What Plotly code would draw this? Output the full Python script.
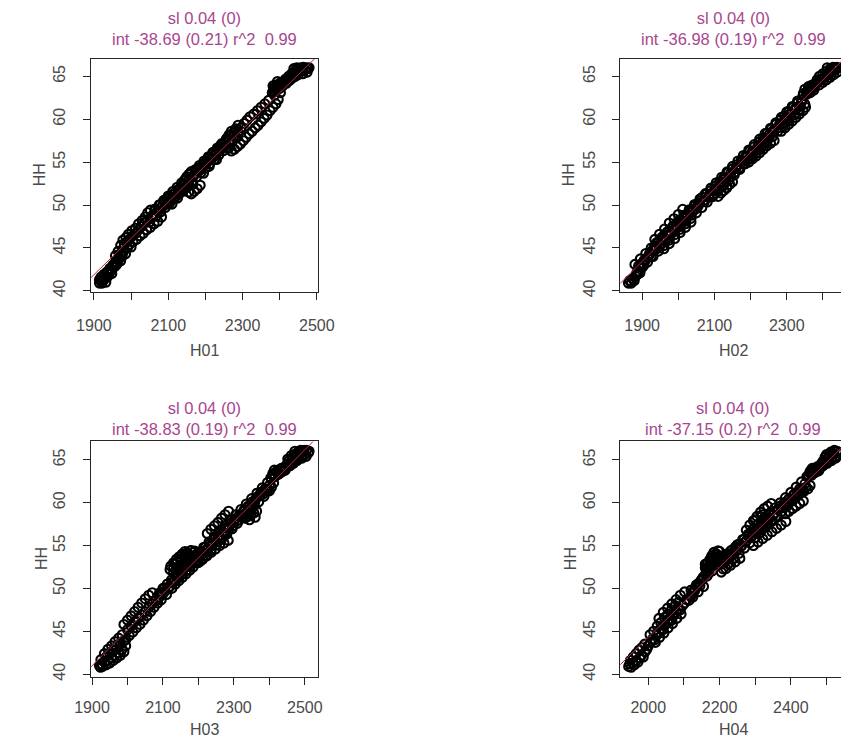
import plotly.graph_objects as go

W, H = 858, 752

# ---------------- data ----------------
panel_names = ["H01", "H02", "H03", "H04"]
titles = ["sl 0.04 (0)<br>int -38.69 (0.21) r^2  0.99",
          "sl 0.04 (0)<br>int -36.98 (0.19) r^2  0.99",
          "sl 0.04 (0)<br>int -38.83 (0.19) r^2  0.99",
          "sl 0.04 (0)<br>int -37.15 (0.2) r^2  0.99"]
fit_slope = [0.0424, 0.04232, 0.0420, 0.04073]
fit_intercept = [-38.69, -36.98, -38.83, -37.15]

pts_h01 = [
    (1915,40.9),(1918,41.2),(1922,40.9),(1927,41.3),(1932,41.0),(1936,41.6),(1940,41.9),(1944,42.3),(1948,42.0),
    (1915,41.3),(1919,41.6),(1923,41.4),(1927,41.9),(1931,41.7),(1935,42.2),(1939,42.0),(1943,42.6),(1947,42.4),
    (1951,43.0),(1955,42.8),(1959,43.4),(1963,43.2),(1967,43.7),(1971,44.3),(1975,44.0),
    (1952,42.8),(1956,43.2),(1960,43.0),(1964,43.6),(1968,43.9),(1972,43.5),(1976,44.2),(1980,44.6),(1985,44.3),
    (1990,45.0),(1995,45.4),(2000,45.1),
    (1958,44.1),(1965,44.6),(1972,45.3),(1978,45.9),(1986,46.2),(1993,46.6),(2002,47.0),(2012,47.3),(2020,47.8),
    (2030,48.2),(2038,48.6),(2045,49.1),(2052,49.4),
    (1982,45.3),(1988,45.7),(1996,46.0),(2004,46.4),(2012,46.7),(2020,47.1),(2028,47.5),(2036,47.9),(2044,48.3),
    (2050,48.0),(2056,48.6),
    (2005,45.7),(2015,46.0),(2024,46.4),(2033,46.7),(2042,47.1),(2052,47.4),(2062,47.8),(2072,48.1),(2082,48.6),
    (2060,48.9),(2066,49.5),(2072,49.2),(2078,50.0),(2084,49.8),(2090,50.4),(2096,50.1),(2102,50.9),(2108,50.6),
    (2114,51.3),(2120,51.0),(2126,51.8),(2132,51.5),(2138,52.3),(2144,52.9),(2150,53.3),(2156,53.6),(2162,53.9),
    (2168,53.4),(2174,54.0),(2180,54.3),(2186,54.1),(2192,54.6),(2198,54.9),(2204,55.1),(2210,55.5),(2216,55.3),
    (2222,56.0),(2228,55.8),(2234,56.5),(2240,56.9),(2246,56.6),(2252,57.3),(2258,57.8),(2264,58.2),(2270,58.6),
    (2276,58.4),(2282,58.9),(2288,59.3),
    (2064,49.52),(2068,48.69),(2072,49.36),(2076,50.03),(2080,49.20),(2084,49.87),(2088,50.54),(2092,49.71),
    (2096,50.38),(2100,51.05),(2104,50.22),(2108,50.89),(2112,51.56),(2116,50.73),(2120,51.40),(2124,52.07),
    (2128,51.24),(2132,51.91),(2136,52.58),(2140,51.75),(2144,52.42),(2148,53.09),(2152,52.26),(2156,52.92),
    (2160,53.59),(2164,52.76),(2168,53.43),(2172,54.10),(2176,53.27),(2180,53.94),(2184,54.61),(2188,53.78),
    (2192,54.45),(2196,55.12),(2200,54.29),(2204,54.96),(2208,55.63),(2212,54.80),(2216,55.47),(2220,56.14),
    (2224,55.31),(2228,55.98),(2232,56.65),(2236,55.82),(2240,56.49),(2244,57.16),(2248,56.33),(2252,57.00),
    (2256,57.66),(2260,56.83),(2264,57.50),(2268,58.17),(2272,57.34),(2276,58.01),(2280,58.68),(2284,57.85),
    (2288,58.52),
    (2110,50.1),(2125,50.8),(2140,51.6),(2155,52.4),(2195,53.7),(2210,54.5),(2230,55.3),
    (2148,52.0),(2155,51.5),(2162,51.3),(2170,51.6),(2178,51.9),(2186,52.3),(2166,52.4),
    (2296,59.0),(2304,59.5),(2312,59.9),(2320,60.3),(2330,60.6),(2340,61.0),(2350,61.4),(2360,61.8),(2370,62.2),
    (2262,56.6),(2270,56.3),(2278,56.5),(2286,56.8),(2294,57.1),(2302,57.5),(2310,57.9),
    (2318,58.3),(2326,58.6),(2334,59.0),(2342,59.3),(2350,59.7),(2358,60.1),(2366,60.5),(2374,61.0),(2382,61.4),
    (2390,61.8),(2396,62.3),
    (2380,63.1),(2384,63.7),(2388,63.3),(2392,64.0),(2396,63.6),(2400,64.2),(2405,63.8),(2410,64.3),(2386,62.8),
    (2384,63.2),(2388,63.8),(2392,63.4),(2396,64.0),(2400,63.6),(2404,64.3),(2408,63.9),(2382,63.9),(2394,64.4),
    (2402,63.1),
    (2412,64.3),(2416,64.7),(2420,64.5),(2424,65.0),(2428,64.8),(2432,65.3),(2436,65.1),(2440,65.6),(2444,65.4),
    (2448,65.9),(2452,65.6),(2456,66.0),(2460,65.7),(2464,66.05),(2468,65.8),(2472,66.0),(2476,65.9),(2479,66.0),
    (2450,65.2),(2462,65.3),(2474,65.5),(2418,64.2),(2426,64.5),(2434,64.8),(2442,65.0),(2438,65.9),(2446,66.0),
]

pts_h02 = [
    (1862,40.9),(1866,41.2),(1870,40.9),(1874,41.4),(1878,41.2),(1882,41.7),(1886,41.9),(1890,42.3),(1894,42.1),
    (1895,42.8),(1900,43.2),(1905,43.0),(1910,43.6),(1915,43.9),(1920,44.3),(1925,44.0),(1930,44.8),(1935,45.2),
    (1940,44.9),(1945,45.6),(1950,45.3),(1955,45.9),(1960,46.2),(1965,45.8),(1970,46.5),(1975,46.9),(1980,46.6),
    (1985,47.3),(1990,47.0),(1995,47.6),(2000,47.9),(2005,47.5),(2010,48.2),(2015,48.5),(2020,48.1),(2025,48.9),
    (2030,49.2),(2035,48.8),(2040,49.5),(2045,49.9),(2050,49.6),(2055,50.2),(2060,50.5),
    (1935,46.0),(1948,46.6),(1962,47.2),(1975,47.9),(1988,48.4),(2000,48.9),(2012,49.5),
    (1960,44.9),(1975,45.5),(1990,46.1),(2005,46.8),(2020,47.4),(2035,48.0),
    (1880,43.08),(1885,42.09),(1890,42.90),(1895,43.72),(1900,42.73),(1905,43.54),(1910,44.35),(1915,43.36),
    (1920,44.17),(1925,44.99),(1930,44.00),(1935,44.81),(1940,45.62),(1945,44.63),(1950,45.44),(1955,46.26),
    (1960,45.27),(1965,46.08),(1970,46.89),(1975,45.90),(1980,46.71),(1985,47.53),(1990,46.54),(1995,47.35),
    (2000,48.16),(2005,47.17),(2010,47.98),(2015,48.79),(2020,47.81),(2025,48.62),(2030,49.43),(2035,48.44),
    (2040,49.25),(2045,50.06),(2050,49.08),(2055,49.89),(2060,50.70),(2065,49.71),(2070,50.52),(2075,51.33),
    (2080,50.35),(2085,51.16),(2090,51.97),(2095,50.98),(2100,51.79),(2105,52.60),(2110,51.62),(2115,52.43),
    (2120,53.24),(2125,52.25),(2130,53.06),(2135,53.87),(2140,52.88),(2145,53.70),(2150,54.51),(2155,53.52),
    (2160,54.33),(2165,55.14),(2170,54.15),(2175,54.97),(2180,55.78),(2185,54.79),(2190,55.60),(2195,56.41),
    (2200,55.42),(2205,56.24),(2210,57.05),(2215,56.06),(2220,56.87),(2225,57.68),(2230,56.69),(2235,57.51),
    (2240,58.32),(2245,57.33),(2250,58.14),(2255,58.95),(2260,57.96),(2265,58.78),(2270,59.59),(2275,58.60),
    (2280,59.41),(2285,60.22),(2290,59.23),(2295,60.04),(2300,60.86),(2305,59.87),(2310,60.68),(2315,61.49),
    (2320,60.50),(2325,61.31),(2330,62.13),(2335,61.14),(2340,61.95),(2345,62.76),(2350,61.77),
    (2066,50.9),(2072,50.4),(2078,51.3),(2084,50.9),(2090,51.7),(2096,51.3),(2102,52.2),(2108,51.8),(2114,52.7),
    (2120,52.3),(2126,53.2),(2132,52.8),(2138,53.8),(2144,53.3),(2150,54.2),(2156,53.8),(2162,54.7),(2168,54.3),
    (2174,55.2),(2180,54.8),(2186,55.7),(2192,55.3),(2198,56.3),(2204,55.9),(2210,56.8),(2216,56.4),(2222,57.3),
    (2228,56.9),(2234,57.8),(2240,57.4),(2246,58.4),(2252,57.9),(2258,58.9),(2264,58.5),(2270,59.4),(2276,59.0),
    (2282,59.9),(2288,59.5),(2294,60.4),(2300,60.0),(2306,60.9),(2312,60.6),(2318,61.4),(2324,61.1),(2330,61.9),
    (2336,61.5),(2342,62.3),
    (2110,51.0),(2118,51.4),(2126,51.7),(2134,52.0),(2142,52.4),(2150,52.7),
    (2195,55.0),(2205,55.4),(2215,55.7),(2225,56.1),(2235,56.5),(2245,56.9),(2255,57.2),(2265,57.5),
    (2285,58.6),(2295,59.0),(2305,59.4),(2315,59.8),(2325,60.2),(2335,60.6),(2345,61.0),(2352,61.4),
    (2346,63.0),(2350,63.5),(2355,63.2),(2360,63.8),(2365,63.4),(2370,64.0),(2375,63.7),(2380,64.2),
    (2355,62.9),(2360,63.4),(2365,63.1),(2370,63.7),(2375,63.4),(2380,64.0),(2385,64.3),(2390,64.0),(2395,64.6),
    (2400,64.3),(2405,64.9),(2410,64.6),(2415,65.2),(2420,64.9),(2425,65.5),(2430,65.2),(2435,65.8),(2440,65.5),
    (2443,66.0),(2432,66.0),(2420,65.6),
    (2384,64.6),(2390,65.0),(2395,64.7),(2400,65.3),(2405,65.0),(2410,65.6),(2415,65.3),(2420,65.9),(2425,65.6),
    (2412,66.0),(2428,66.05),(2438,66.05),
]

pts_h03 = [
    (1921,41.0),(1924,40.8),(1927,41.2),(1930,40.9),(1935,41.4),(1940,41.1),(1945,41.6),(1950,41.3),(1955,41.9),
    (1960,41.6),(1965,42.2),(1970,41.9),(1975,42.5),(1980,42.2),(1985,42.9),(1990,42.6),(1995,43.3),
    (1925,41.7),(1935,42.4),(1945,42.9),(1955,43.3),(1965,43.8),(1975,44.2),(1985,44.6),
    (1940,42.0),(1950,42.4),(1960,42.8),(1970,43.2),(1980,43.6),(1990,43.9),
    (1990,45.8),(2000,46.3),(2010,46.8),(2020,47.3),(2030,47.8),(2040,48.3),(2050,48.8),(2060,49.2),(2070,49.5),
    (1995,44.0),(2005,44.5),(2015,44.9),(2025,45.4),(2035,45.8),(2045,46.3),(2055,46.8),(2065,47.3),(2075,47.8),
    (2085,48.3),
    (2000,45.2),(2010,45.6),(2020,46.1),(2030,46.5),(2040,46.9),(2050,47.3),(2060,47.8),(2070,48.2),(2080,48.6),
    (2090,49.0),
    (2095,49.4),(2100,50.0),(2106,49.7),(2112,50.5),(2118,50.2),(2124,51.0),(2130,50.7),(2136,51.5),(2142,51.2),
    (2148,52.0),(2154,51.7),(2160,52.4),(2166,52.1),(2172,52.9),(2178,52.6),(2184,53.3),(2190,53.0),(2196,53.8),
    (2122,52.6),(2130,53.0),(2138,53.4),(2146,53.7),(2154,54.0),(2162,54.3),(2170,54.1),(2178,54.4),(2186,54.2),
    (2150,53.2),(2170,53.5),
    (2090,49.45),(2095,48.66),(2100,49.37),(2105,50.08),(2110,49.29),(2115,50.00),(2120,52.21),(2125,50.72),
    (2130,51.83),(2135,52.84),(2140,51.35),(2145,52.46),(2150,53.47),(2155,51.98),(2160,53.09),(2165,54.10),
    (2170,52.61),(2175,53.72),(2180,54.43),(2185,53.24),(2190,54.35),(2195,54.0),
    (2125,50.0),(2135,50.5),(2145,50.9),(2155,51.3),(2165,51.7),(2175,52.1),(2185,52.5),(2195,53.0),(2130,52.4),
    (2150,52.7),(2170,53.1),(2160,53.6),(2140,53.0),
    (2200,53.0),(2212,53.4),(2224,53.8),(2236,54.2),(2248,54.6),(2260,55.0),(2272,55.3),(2284,55.6),
    (2225,56.4),(2235,56.9),(2245,57.3),(2255,57.7),(2265,58.2),(2275,58.6),(2285,59.0),
    (2202,53.9),(2208,54.3),(2214,54.1),(2220,54.8),(2226,54.5),(2232,55.2),(2238,55.0),(2244,55.7),(2250,55.4),
    (2256,56.1),(2262,55.9),(2268,56.6),(2274,56.4),(2280,57.1),(2286,56.9),(2292,57.6),(2298,57.3),(2304,58.1),
    (2310,57.9),(2316,58.6),(2322,58.4),(2328,59.1),(2334,58.8),(2340,59.6),(2346,59.3),(2352,60.1),(2358,59.9),
    (2364,60.6),
    (2200,54.17),(2205,53.18),(2210,53.99),(2215,54.80),(2220,53.81),(2225,54.62),(2230,55.43),(2235,54.44),
    (2240,55.25),(2245,56.06),(2250,55.07),(2255,55.88),(2260,56.69),(2265,55.70),(2270,56.51),(2275,57.32),
    (2280,56.33),(2285,57.14),(2290,57.95),(2295,56.96),(2300,57.77),(2305,58.58),(2310,57.59),(2315,58.40),
    (2320,59.21),(2325,58.22),(2330,59.03),(2335,59.84),(2340,58.85),(2345,59.66),(2350,60.47),(2355,59.48),
    (2360,60.29),(2365,61.10),(2370,60.11),(2375,60.92),(2380,61.73),(2385,60.74),(2390,61.55),(2395,62.36),
    (2400,61.37),
    (2332,58.2),(2340,58.4),(2348,58.6),(2356,58.8),(2364,59.0),(2344,58.0),(2360,58.3),
    (2370,60.8),(2376,61.2),(2382,61.0),(2388,61.6),(2394,61.4),(2400,62.0),(2406,61.8),(2412,62.3),
    (2404,62.9),(2410,63.4),(2416,63.1),(2422,63.7),(2428,63.4),(2434,64.0),(2440,63.7),(2446,64.1),(2414,63.8),
    (2405,62.8),(2410,63.3),(2415,63.0),(2420,63.6),(2425,63.3),(2430,63.9),(2435,63.6),(2440,64.1),(2445,63.8),
    (2450,64.5),(2455,64.9),(2460,64.6),(2465,65.1),(2470,64.9),(2475,65.4),(2480,65.2),(2485,65.7),(2490,65.4),
    (2495,65.9),(2500,65.6),(2505,66.1),(2510,65.8),(2512,66.0),(2488,66.1),(2498,66.1),(2470,65.6),(2480,65.9),
    (2452,65.1),(2462,65.5),(2472,66.0),(2458,64.3),(2468,64.6),(2478,64.9),(2492,65.2),(2504,65.4),
]

pts_h04 = [
    (1945,40.9),(1948,41.2),(1952,40.8),(1956,41.3),(1961,41.1),(1966,41.6),(1971,41.4),(1976,41.9),(1981,42.2),
    (1986,42.0),(1991,42.6),(1996,42.9),
    (1950,41.6),(1958,42.0),(1966,42.4),(1974,42.8),(1982,43.1),(1990,43.5),
    (2000,43.3),(2006,43.7),(2012,44.1),(2018,44.0),(2024,44.6),(2030,44.9),(2036,45.3),(2042,45.2),(2048,45.8),
    (2054,46.1),(2060,46.4),(2066,46.3),(2072,46.9),(2078,47.2),(2084,47.6),(2090,47.5),(2096,48.0),(2102,48.3),
    (2108,48.7),(2114,48.6),(2120,49.1),
    (2030,46.5),(2042,47.2),(2054,47.7),(2066,48.2),(2078,48.7),(2090,49.2),(2102,49.6),
    (2005,44.6),(2015,45.0),(2025,45.6),(2035,46.0),(2045,46.6),(2055,47.0),(2065,47.5),(2075,48.0),(2085,48.4),
    (2020,43.7),(2032,44.3),(2044,44.8),(2056,45.4),(2068,45.9),(2080,46.5),(2092,47.0),
    (2124,49.5),(2130,49.9),(2136,50.2),(2142,50.6),(2148,50.9),(2154,51.3),(2160,51.6),(2166,52.0),(2172,52.3),
    (2178,52.7),(2184,53.0),(2190,53.4),(2196,53.7),
    (2160,52.4),(2166,52.9),(2172,53.3),(2178,53.8),(2184,54.2),(2190,54.0),(2196,54.4),(2170,52.0),(2180,53.0),
    (2192,53.1),
    (2120,49.80),(2125,49.00),(2130,49.70),(2135,50.41),(2140,49.61),(2145,50.32),(2150,51.02),(2155,50.22),
    (2160,52.83),(2165,51.43),(2170,52.44),(2175,53.44),(2180,52.04),(2185,53.05),(2190,54.05),(2195,52.65),
    (2200,53.66),
    (2165,52.3),(2175,52.6),(2185,53.5),(2195,53.9),(2190,52.8),(2180,53.3),(2170,51.8),(2200,54.3),
    (2202,53.2),(2208,53.6),(2214,53.4),(2220,54.0),(2226,53.8),(2232,54.4),(2238,54.2),(2244,54.8),(2250,54.6),
    (2256,55.2),(2262,55.0),(2268,55.7),(2274,55.5),(2280,56.1),(2286,55.9),(2292,56.5),
    (2205,53.26),(2210,52.27),(2215,53.07),(2220,53.87),(2225,52.88),(2230,53.68),(2235,54.48),(2240,53.49),
    (2245,54.29),(2250,55.09),(2255,54.10),(2260,54.90),(2265,55.70),(2270,54.71),(2275,55.51),(2280,56.31),
    (2285,55.32),(2290,56.12),(2295,56.93),(2300,55.93),(2305,56.73),(2310,57.54),(2315,56.54),(2320,57.34),
    (2325,58.15),(2330,57.15),(2335,57.95),(2340,58.76),(2345,57.76),(2350,58.57),(2355,59.37),(2360,58.37),
    (2365,59.18),(2370,59.98),(2375,58.98),(2380,59.79),(2385,60.59),(2390,59.59),(2395,60.40),(2400,61.20),
    (2405,60.20),(2410,61.01),(2415,61.81),(2420,60.82),(2425,61.62),(2430,62.42),(2435,61.43),(2440,62.23),
    (2445,63.03),
    (2205,51.9),(2218,52.3),(2231,52.7),(2244,53.1),(2257,53.5),
    (2275,56.8),(2285,57.4),(2295,57.9),(2305,58.4),(2315,58.9),(2325,59.3),(2335,59.6),(2345,59.9),(2300,58.0),
    (2320,58.6),
    (2295,55.0),(2308,55.4),(2321,55.8),(2334,56.2),(2347,56.6),(2360,57.0),(2373,57.4),(2386,57.8),
    (2298,56.7),(2304,57.0),(2310,56.8),(2316,57.4),(2322,57.2),(2328,57.8),(2334,57.6),(2340,58.2),(2346,58.0),
    (2352,58.6),(2358,58.4),
    (2364,59.2),(2370,59.6),(2376,59.4),(2382,60.0),(2388,59.8),(2394,60.4),(2400,60.2),(2406,60.8),(2412,60.6),
    (2418,61.2),(2424,61.0),(2430,61.5),(2436,61.3),(2442,61.8),(2448,61.6),(2454,62.0),
    (2385,58.7),(2395,59.0),(2405,59.3),(2415,59.6),(2425,59.9),(2435,60.2),
    (2448,63.0),(2453,63.5),(2458,63.2),(2463,63.8),(2468,63.5),(2473,64.0),(2478,63.7),(2483,64.1),(2460,64.0),
    (2450,63.2),(2455,63.7),(2460,63.4),(2465,64.0),(2470,63.7),(2475,64.2),(2480,63.9),(2485,64.5),(2490,64.8),
    (2495,64.5),(2500,65.1),(2505,64.8),(2510,65.4),(2515,65.1),(2520,65.7),(2525,65.4),(2530,66.0),(2534,65.8),
    (2522,66.1),(2512,65.9),(2500,65.6),(2490,64.3),(2502,64.6),(2514,64.9),(2526,65.2),(2496,65.3),(2508,65.6),
]

x_tickvals = [[1900, 2000, 2100, 2200, 2300, 2400, 2500],
              [1900, 2000, 2100, 2200, 2300, 2400, 2500],
              [1900, 2000, 2100, 2200, 2300, 2400, 2500],
              [2000, 2100, 2200, 2300, 2400, 2500]]
x_ticktext = [["1900", "", "2100", "", "2300", "", "2500"],
              ["1900", "", "2100", "", "2300", "", ""],
              ["1900", "", "2100", "", "2300", "", "2500"],
              ["2000", "", "2200", "", "2400", ""]]
y_tickvals = [40, 45, 50, 55, 60, 65]
y_label = "HH"

# ---------------- layout geometry (pixels) ----------------
boxes = [(77, 313, 59, 294), (628, 864, 59, 294), (77, 313, 445, 682), (628, 864, 445, 682)]
x_ranges = [(1892, 2502), (1839, 2466), (1897, 2536), (1921, 2557)]
y_ranges = [(39.9, 67.08), (39.9, 67.08), (39.72, 67.14), (39.72, 67.14)]
title_y = [29, 29, 421.5, 421.5]
xlab_y = [353, 353, 735, 735]
ylab_x = [23, 574, 25, 576]
xtick_standoff = [12, 12, 9, 9]

FONT = "Liberation Sans, Arial, Helvetica, sans-serif"
TXT = "#4a4a4a"
TITLE_COL = "#a8468f"
BOX_COL = "#262626"

all_pts = [pts_h01, pts_h02, pts_h03, pts_h04]

fig = go.Figure()
annotations = []


def px_x(v):
    return v / W


def px_y(v):
    return 1 - v / H


for i in range(4):
    n = "" if i == 0 else str(i + 1)
    xa, ya = "x" + n, "y" + n
    L, R, T, B = boxes[i]
    xs = [p[0] for p in all_pts[i]]
    ys = [p[1] for p in all_pts[i]]
    fig.add_trace(go.Scatter(
        x=xs, y=ys, mode="markers", xaxis=xa, yaxis=ya, showlegend=False,
        marker=dict(symbol="circle-open", size=9, color="black", line=dict(width=2.1, color="black")),
        hoverinfo="skip"))
    lx = list(x_ranges[i])
    ly = [fit_slope[i] * v + fit_intercept[i] for v in lx]
    fig.add_trace(go.Scatter(
        x=lx, y=ly, mode="lines", xaxis=xa, yaxis=ya, showlegend=False,
        line=dict(color="#b8283c", width=1), hoverinfo="skip"))

    right_cut = R > W
    xdom = [px_x(L), min(1.0, px_x(R))]
    xr = list(x_ranges[i])
    if right_cut:
        xr[1] = x_ranges[i][0] + (x_ranges[i][1] - x_ranges[i][0]) * (W - L) / (R - L)
    ydom = [px_y(B), px_y(T)]

    axis_common = dict(showgrid=False, zeroline=False, showline=True, linecolor=BOX_COL,
                       linewidth=1.3, ticks="outside", ticklen=7, tickwidth=1.2,
                       tickcolor=BOX_COL, tickfont=dict(family=FONT, size=16, color=TXT))
    fig.update_layout(**{
        ("xaxis" + n): dict(domain=xdom, range=xr, anchor=ya, mirror=True,
                            tickmode="array", tickvals=x_tickvals[i], ticktext=x_ticktext[i],
                            ticklabelstandoff=xtick_standoff[i], **axis_common),
        ("yaxis" + n): dict(domain=ydom, range=list(y_ranges[i]), anchor=xa,
                            mirror=(not right_cut), tickmode="array", tickvals=y_tickvals,
                            ticktext=[str(v) for v in y_tickvals], tickangle=-90,
                            ticklabelstandoff=11, **axis_common),
    })

    cx = (L + R) / 2
    annotations.append(dict(text=titles[i], x=px_x(cx), y=px_y(title_y[i]),
                            xref="paper", yref="paper", showarrow=False, xanchor="center",
                            yanchor="middle", align="center",
                            font=dict(family=FONT, size=16.5, color=TITLE_COL)))
    annotations.append(dict(text=panel_names[i], x=px_x(cx), y=px_y(xlab_y[i]),
                            xref="paper", yref="paper", showarrow=False, xanchor="center",
                            yanchor="middle", font=dict(family=FONT, size=16, color=TXT)))
    annotations.append(dict(text=y_label, x=px_x(ylab_x[i]), y=px_y((T + B) / 2),
                            xref="paper", yref="paper", showarrow=False, xanchor="center",
                            yanchor="middle", textangle=-90,
                            font=dict(family=FONT, size=16, color=TXT)))

fig.update_layout(width=W, height=H, margin=dict(l=0, r=0, t=0, b=0),
                  paper_bgcolor="white", plot_bgcolor="white",
                  annotations=annotations, showlegend=False)

fig.write_html("out.html")
